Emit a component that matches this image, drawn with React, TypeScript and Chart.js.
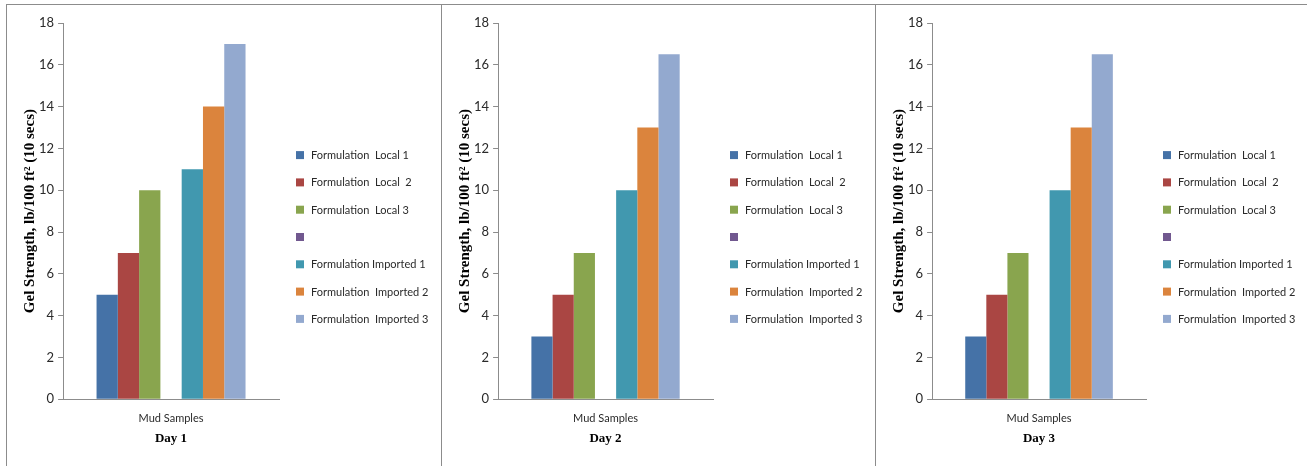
import React, { useEffect, useRef } from "react";
import { Chart, registerables } from "chart.js";

Chart.register(...registerables);

const categories = ["Mud Samples"];
const seriesLabels = [
  "Formulation  Local 1",
  "Formulation  Local  2",
  "Formulation  Local 3",
  "",
  "Formulation Imported 1",
  "Formulation  Imported 2",
  "Formulation  Imported 3",
];
const seriesColors = ["#4572A7", "#AA4643", "#89A54E", "#71588F", "#4198AF", "#DB843D", "#93A9CF"];
const day1Values = [5, 7, 10, null, 11, 14, 17];
const day2Values = [3, 5, 7, null, 10, 13, 16.5];
const day3Values = [3, 5, 7, null, 10, 13, 16.5];
const dayLabels = ["Day 1", "Day 2", "Day 3"];
const yTitle = "Gel Strength, lb/100 ft\u00B2 (10 secs)";

const SANS = "Lato";
const SERIF = "'Liberation Serif', 'Times New Roman', serif";

// Right-side legend drawn from the chart's own datasets
const sideLegend = {
  id: "sideLegend",
  afterDraw(chart: any) {
    const ctx = chart.ctx;
    const ds = chart.data.datasets;
    const step = 27.3;
    const x0 = chart.chartArea.right + 17;
    const y0 = chart.height / 2 + 1.5 - step * (ds.length - 1) / 2;
    ctx.save();
    ctx.font = `11px ${SANS}`;
    ctx.textBaseline = "middle";
    ctx.textAlign = "left";
    ds.forEach((d: any, i: number) => {
      const y = y0 + i * step;
      ctx.fillStyle = d.backgroundColor;
      ctx.fillRect(x0, y - 4, 8, 8);
      ctx.fillStyle = "#2a2a2a";
      ctx.fillText(d.label, x0 + 15, y + 0.5);
    });
    ctx.restore();
  },
};

function Panel({ values, day }: { values: (number | null)[]; day: string }) {
  const ref = useRef<HTMLCanvasElement | null>(null);
  useEffect(() => {
    if (!ref.current) return;
    const chart = new Chart(ref.current, {
      type: "bar",
      data: {
        labels: categories,
        datasets: seriesLabels.map((label, i) => ({
          label,
          data: [values[i]],
          backgroundColor: seriesColors[i],
          borderWidth: 0,
        })),
      },
      options: {
        animation: false,
        responsive: true,
        maintainAspectRatio: false,
        datasets: { bar: { categoryPercentage: 0.69, barPercentage: 1 } },
        layout: { padding: { left: 10, right: 162, top: 18, bottom: 20 } },
        plugins: {
          legend: { display: false },
          tooltip: { enabled: false },
        },
        scales: {
          x: {
            grid: { display: false, drawTicks: false },
            border: { color: "#8c8c8c" },
            ticks: { padding: 13, font: { family: SANS, size: 11 }, color: "#2a2a2a" },
            title: {
              display: true,
              text: day,
              font: { family: SERIF, weight: "bold", size: 13 },
              color: "#000",
              padding: { top: -8, bottom: 0 },
            },
          },
          y: {
            min: 0,
            max: 18,
            ticks: { stepSize: 2, padding: 4, font: { family: SANS, size: 13 }, color: "#2a2a2a" },
            grid: { drawOnChartArea: false, tickLength: 5, color: "#8c8c8c" },
            border: { color: "#8c8c8c" },
            title: {
              display: true,
              text: yTitle,
              font: { family: SERIF, weight: "bold", size: 15 },
              color: "#000",
              padding: { top: 4, bottom: -4 },
            },
          },
        },
      },
      plugins: [sideLegend],
    });
    return () => chart.destroy();
  }, [values, day]);
  return <canvas ref={ref} />;
}

export default function App() {
  const panels = [
    { left: 0, width: 434, values: day1Values, day: dayLabels[0] },
    { left: 435, width: 433, values: day2Values, day: dayLabels[1] },
    { left: 869, width: 432, values: day3Values, day: dayLabels[2] },
  ];
  return (
    <div
      style={{
        position: "absolute",
        left: 6,
        top: 4,
        width: 1301,
        height: 462,
        borderTop: "1px solid #8c8c8c",
        borderLeft: "1px solid #8c8c8c",
        background: "#fff",
      }}
    >
      {panels.map((p, i) => (
        <div
          key={i}
          style={{
            position: "absolute",
            left: p.left,
            top: 0,
            width: p.width,
            height: 461,
            borderRight: i < 2 ? "1px solid #8c8c8c" : "none",
          }}
        >
          <div style={{ position: "relative", width: p.width, height: 461 }}>
            <Panel values={p.values} day={p.day} />
          </div>
        </div>
      ))}
    </div>
  );
}
